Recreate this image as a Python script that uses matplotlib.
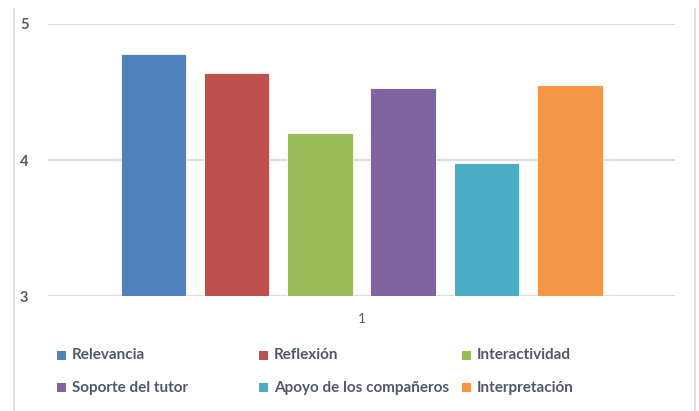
import matplotlib
matplotlib.use("Agg")
import matplotlib.pyplot as plt
from matplotlib.patches import Rectangle
from matplotlib.lines import Line2D

categories = ["Relevancia", "Reflexión", "Interactividad",
              "Soporte del tutor", "Apoyo de los compañeros", "Interpretación"]
values = [4.78, 4.64, 4.20, 4.53, 3.98, 4.55]
colors = ["#4f81bd", "#c0504d", "#9bbb59", "#8064a2", "#4bacc6", "#f79646"]
x_labels = ["1"]
y_ticks = [3, 4, 5]

W, H = 699, 411
fig = plt.figure(figsize=(W / 100, H / 100), dpi=100)
fig.patch.set_facecolor("white")

# axes area in pixels: left 48, right 675, top 23.7, bottom 296.3
ax = fig.add_axes([48 / W, (H - 296.3) / H, 627 / W, 272.6 / H])
ax.set_xlim(0.5, 1.5)
ax.set_ylim(3, 5)

bw = 65.5 / 627
step = 83.3 / 627
n = len(values)
for i, (v, c) in enumerate(zip(values, colors)):
    xc = 1 + (i - (n - 1) / 2) * step
    ax.bar(xc, v - 3, bottom=3, width=bw, color=c, edgecolor="white",
           linewidth=0.6, zorder=3)

for y in y_ticks:
    ax.axhline(y, color="#d9d9d9", linewidth=1.3, zorder=1)

for s in ax.spines.values():
    s.set_visible(False)
ax.set_yticks(y_ticks)
ax.set_yticklabels([str(t) for t in y_ticks], fontfamily="Lato",
                   fontweight="bold", fontsize=10.5, color="#595959")
ax.set_xticks([1])
ax.set_xticklabels(x_labels, fontfamily="Lato", fontsize=10, color="#595959")
ax.tick_params(axis="both", length=0)
ax.tick_params(axis="y", pad=14)
ax.tick_params(axis="x", pad=12)

# chart border (left and right edges)
for xp in (13.5, 694.5):
    fig.add_artist(Line2D([xp / W, xp / W], [0, (H - 9) / H],
                          color="#d9d9d9", linewidth=1.2))

# legend, filled row by row
col_x = [61, 263.5, 466]
row_y = [355, 387.5]
for i, (lab, c) in enumerate(zip(categories, colors)):
    cx = col_x[i % 3]
    cy = row_y[i // 3]
    fig.add_artist(Rectangle(((cx - 4.5) / W, (H - cy - 4.5) / H), 9 / W, 9 / H,
                             facecolor=c, edgecolor="none",
                             transform=fig.transFigure))
    fig.text((cx + 10.5) / W, (H - cy) / H, lab, fontfamily="Lato",
             fontweight="bold", fontsize=11, color="#505a66",
             ha="left", va="center")

fig.savefig("out.png", dpi=100)
